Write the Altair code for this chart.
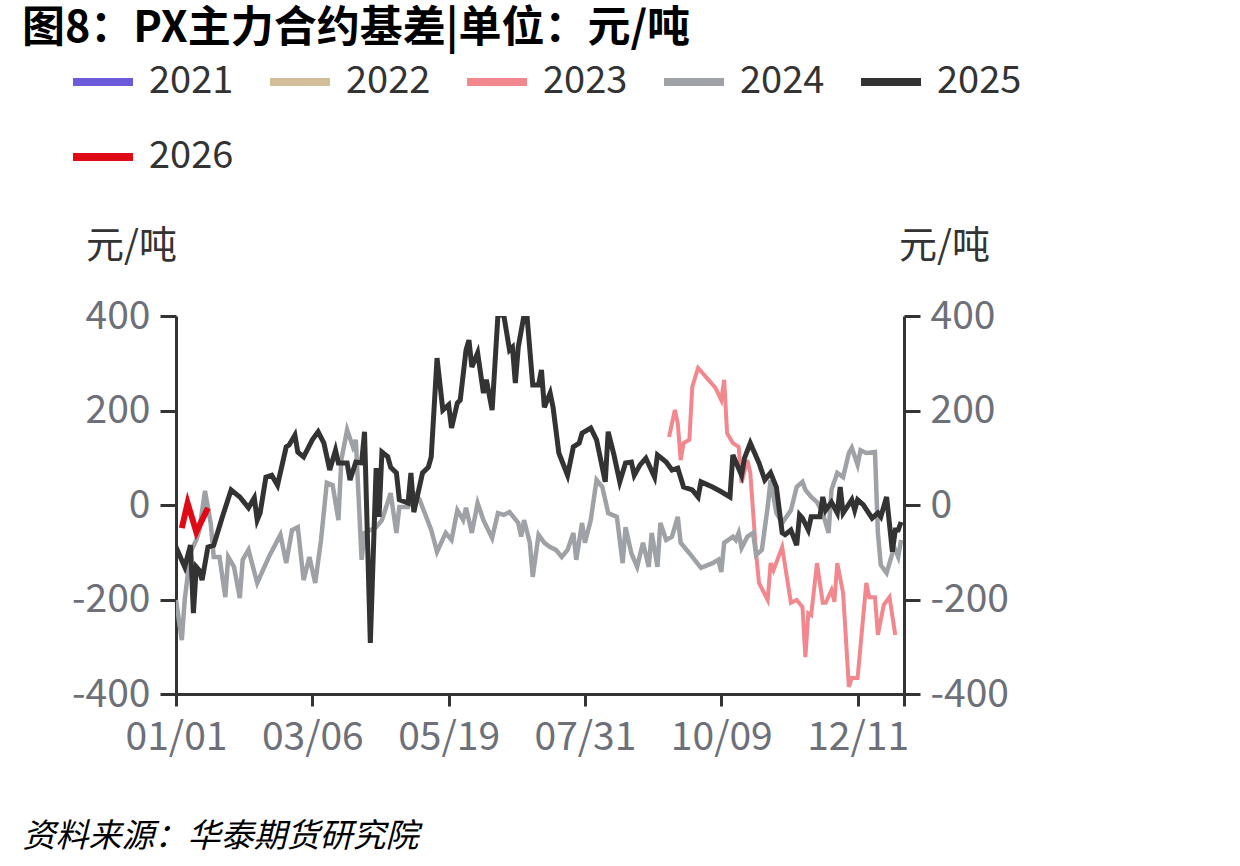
import altair as alt
import pandas as pd

FONT = "Noto Sans CJK SC"

years = ["2021", "2022", "2023", "2024", "2025", "2026"]
colors = ["#6B5BDB", "#D3BE9A", "#F2878E", "#9EA1A5", "#333333", "#E00A16"]
widths = [4, 4, 4, 4.5, 5, 6]

tick_idx = [0, 47, 94, 141, 188, 235, 251]
tick_lab = ["01/01", "03/06", "05/19", "07/31", "10/09", "12/11", ""]
y_ticks = [-400, -200, 0, 200, 400]

# 2023 basis (trading-day index, value)
x23 = [170, 172, 173, 174, 175, 177, 178, 180, 183, 186, 188, 189, 190, 192, 194, 195, 197, 198,
       200, 201, 204, 205, 206, 209, 212, 214, 216, 217, 218, 219, 221, 223, 224, 226, 227, 228,
       230, 232, 233, 235, 238, 239, 241, 242, 244, 246, 248]
v23 = [144, 201, 173, 95, 131, 138, 250, 290, 269, 248, 222, 265, 152, 131, 123, 47, 95, 68,
       -102, -165, -201, -123, -138, -89, -207, -201, -216, -322, -229, -233, -123, -207, -207, -180, -205, -123,
       -186, -385, -366, -366, -165, -195, -195, -275, -212, -195, -275]

# 2024 basis
x24 = [0, 2, 3, 5, 7, 8, 10, 12, 13, 15, 17, 18, 20, 22, 23, 25, 28, 32, 36, 38, 40, 42, 44, 46, 48,
       50, 52, 54, 56, 57, 59, 61, 62, 64, 65, 69, 71, 74, 76, 77, 80, 82, 84, 88, 90, 93, 95, 97, 99,
       100, 102, 104, 106, 109, 111, 113, 115, 118, 119, 120, 122, 123, 125, 127, 129, 131, 133, 135,
       137, 138, 140, 141, 143, 145, 147, 149, 152, 154, 155, 157, 159, 161, 163, 164, 166, 167, 169,
       171, 173, 174, 177, 181, 185, 187, 188, 189, 192, 193, 194, 195, 197, 199, 200, 202, 204, 205,
       207, 209, 212, 214, 216, 217, 219, 221, 223, 225, 226, 228, 230, 232, 233, 235, 236, 238, 241,
       242, 243, 245, 247, 248, 249, 250]
v24 = [-201, -286, -201, -100, -74, -55, 30, -40, -110, -110, -195, -110, -131, -197, -116, -95, -165,
       -110, -63, -123, -53, -47, -159, -110, -165,
       -74, 47, 42, -32, 95, 159, 123, 138, -116, -59, -47, -32, 25, -59, -4, -4, 25, 11, -53, -99, -59,
       -74, -11, -32,
       -6, -59, 4, -32, -70, -17, -21, -15, -38, -67, -32, -80, -152, -63, -80, -89, -95, -110, -95,
       -59, -116, -38, -80, -32, 53, 38, -17, -25, -123, -47, -102, -131, -80, -131, -59, -131, -38, -74,
       -67, -25, -80, -102, -133, -123, -116, -142, -80, -67, -74, -59, -91, -67, -59, -106, -95, -4, 53,
       -17, -38, -11, 38, 49, 32, 17, 6, -17, -59, 32, 68, 59, 110, 121, 85, 116, 110, 112,
       -59, -127, -144, -102, -95, -110, -74]

# 2025 basis
x25 = [0, 3, 5, 6, 7, 8, 9, 11, 13, 16, 19, 22, 25, 27, 28, 29, 31, 33, 35, 38, 39, 41, 42, 44, 47,
       49, 51, 53, 55, 56, 59, 60, 62, 64, 65, 67, 69, 70, 71, 73, 74, 76, 77, 80, 81, 82, 85, 87, 88,
       90, 92, 94, 95, 97, 98, 100, 101, 102, 104, 106, 107, 109, 111, 113, 115, 116, 117, 118, 120,
       121, 123, 125, 126, 127, 129, 130, 132, 135, 137, 139, 140, 143, 145, 148, 149, 151, 153, 155,
       157, 158, 160, 162, 165, 166, 169, 171, 173, 175, 178, 180, 181, 185, 188, 191, 192, 195, 196,
       198, 201, 203, 205, 207, 209, 210, 212, 214, 215, 216, 218, 219, 222, 223, 224, 226, 228, 229,
       230, 233, 234, 235, 237, 240, 242, 243, 245, 247, 248, 249, 250]
v25 = [-89, -131, -85, -229, -131, -138, -159, -89, -85, -25, 32, 17, -6, 15, -32, -17, 59, 63, 42, 123,
       127, 148, 112, 102, 138,
       155, 131, 74, 116, 89, 89, 53, 91, 89, 155, -292, 78, -25, 112, 102, 80, 68, 11, 4, 68, -15, 68,
       80, 102,
       311, 201, 212, 163, 216, 222, 328, 349, 292, 322, 237, 265, 201, 402, 402, 328, 334, 258, 334, 402,
       402, 254, 254, 286, 207, 237, 207, 110, 63, 123, 131, 152, 163, 138, 49, 155, 106, 49, 89,
       91, 63, 85, 99, 59, 106, 91, 74, 78, 38, 32, 17, 49, 38, 28, 17, 106, 63, 99,
       131, 89, 53, 68, 38, -59, -63, -53, -85, -21, -28, -53, -25, -25, 17, -11, 6, -17, 38,
       -17, 11, -11, 11, 0, -28, -17, -25, 17, -99, -53, -53, -36]

# 2026 basis
x26 = [2, 4, 7, 11]
v26 = [-49, 4, -57, -6]

width_of = dict(zip(years, widths))
frames = []
for yr, xs, vs in [("2023", x23, v23), ("2024", x24, v24), ("2025", x25, v25), ("2026", x26, v26)]:
    frames.append(pd.DataFrame({"idx": xs, "val": vs, "year": yr, "w": width_of[yr]}))
df = pd.concat(frames, ignore_index=True)

label_expr = " : ".join(f"datum.value == {i} ? '{l}'" for i, l in zip(tick_idx, tick_lab)) + " : ''"

x_scale = alt.Scale(domain=[0, 251], nice=False, zero=False)
y_scale = alt.Scale(domain=[-400, 400], nice=False, zero=False)

x_axis = alt.Axis(
    values=tick_idx, labelExpr=label_expr, grid=False, labelFont=FONT, labelFontSize=39,
    labelColor="#6E7079", domainColor="#333333", domainWidth=3, tickColor="#333333",
    tickWidth=3, tickSize=12, labelPadding=12, labelFlush=False,
    title="资料来源：华泰期货研究院", titleFont=FONT, titleFontSize=33,
    titleFontStyle="italic", titleFontWeight="normal", titleColor="#000000",
    titleAlign="left", titleBaseline="middle", titleX=-154, titleY=142)

axis_common = dict(
    values=y_ticks, grid=False, labelFont=FONT, labelFontSize=39, labelColor="#6E7079",
    labelExpr="datum.value < 0 ? '-' + abs(datum.value) : '' + datum.value",
    domainColor="#333333", domainWidth=3, tickColor="#333333", tickWidth=3, tickSize=16,
    labelPadding=10, title="元/吨", titleAngle=0, titleFont=FONT, titleFontSize=38,
    titleFontWeight="normal", titleColor="#333333", titleAlign="center", titleBaseline="middle",
    titleY=-70,
)

lines = alt.Chart(df).mark_line(clip=True).encode(
    x=alt.X("idx:Q", scale=x_scale, axis=x_axis),
    y=alt.Y("val:Q", scale=y_scale, axis=alt.Axis(orient="left", titleX=-45, **axis_common)),
    color=alt.Color("year:N", scale=alt.Scale(domain=years, range=colors), legend=alt.Legend(
        title=None, orient="none", legendX=-107, legendY=-268, direction="horizontal", columns=5,
        symbolType="stroke", symbolSize=3600, symbolStrokeWidth=8, labelFont=FONT,
        labelFontSize=38, labelColor="#333333", labelOffset=12, columnPadding=20, rowPadding=22)),
    strokeWidth=alt.StrokeWidth("w:Q", scale=None),
    order=alt.Order("idx:Q"),
)

right = alt.Chart(df).mark_line(strokeOpacity=0).encode(
    x=alt.X("idx:Q", scale=x_scale, axis=x_axis),
    y=alt.Y("val:Q", scale=y_scale, axis=alt.Axis(orient="right", titleX=40, **axis_common)),
    detail="year:N",
)

chart = alt.layer(lines, right).resolve_scale(y="independent").properties(
    width=728, height=378,
    autosize="none",
    background="#FFFFFF",
    padding={"left": 176, "top": 316, "right": 336, "bottom": 172},
    title=alt.TitleParams(
        text="图8：PX主力合约基差|单位：元/吨", anchor="start", frame="group", dx=-154, dy=7,
        font=FONT, fontSize=43, fontWeight="bold", color="#000000"),
).configure_view(stroke=None)

chart.save("out.html", embed_options={"renderer": "svg", "actions": False})
